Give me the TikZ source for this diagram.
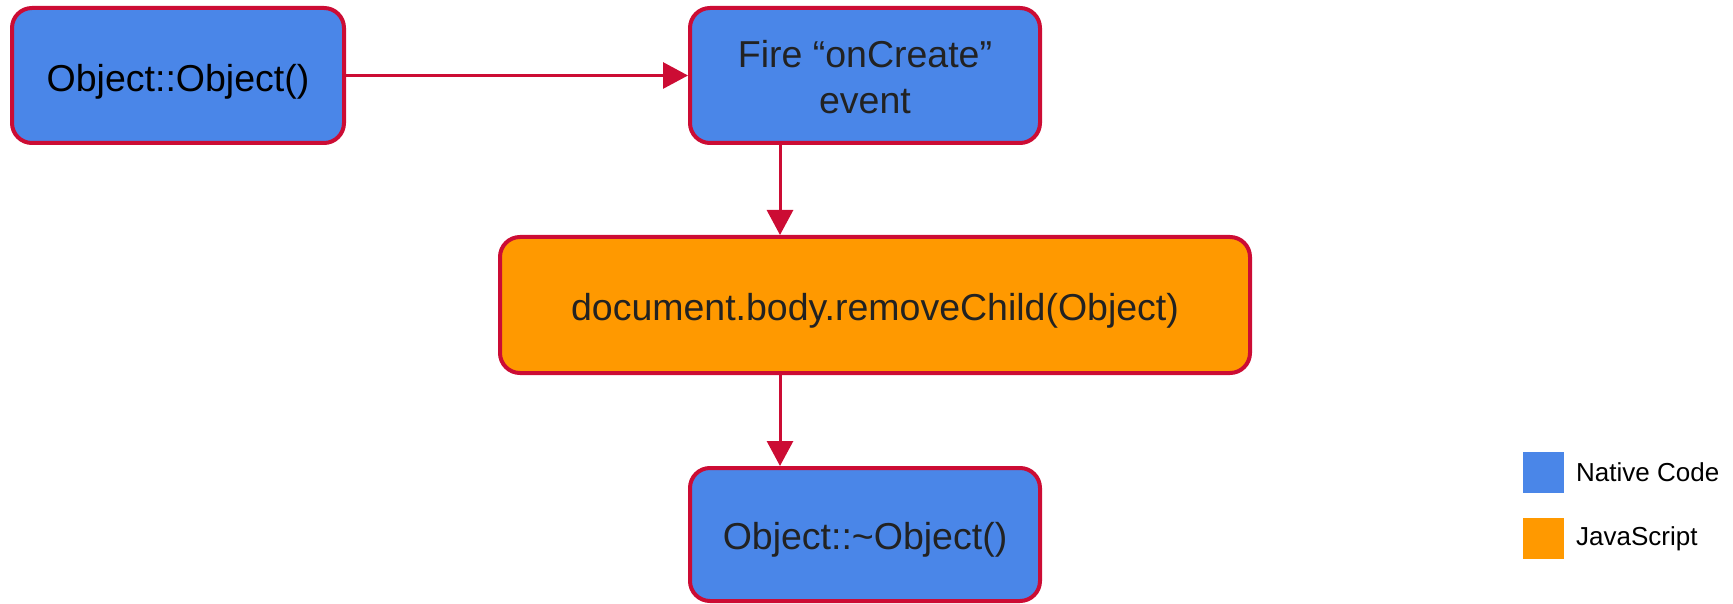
\documentclass[tikz,border=0pt]{standalone}
\usepackage{fontspec}
\setmainfont{Liberation Sans}
\usetikzlibrary{arrows.meta}
\definecolor{nativeblue}{HTML}{4A86E8}
\definecolor{jsorange}{HTML}{FF9900}
\definecolor{edgered}{RGB}{204,12,52}
\definecolor{ink}{RGB}{34,34,34}
\tikzset{
  flowbox/.style={draw=edgered, line width=4pt, rounded corners=20pt,
    font=\fontsize{37.5}{46}\selectfont, text=ink, align=center, inner sep=0pt,
    minimum height=135pt, text height=30pt, text depth=0pt},
  native/.style={flowbox, fill=nativeblue},
  script/.style={flowbox, fill=jsorange},
  flow/.style={draw=edgered, line width=3pt, -{Triangle[length=25pt,width=26pt]}},
  swatch/.style={minimum width=41pt, minimum height=41pt, inner sep=0pt, draw=none},
  legendtext/.style={anchor=west, font=\fontsize{26}{30}\selectfont, text=black, inner sep=0pt}
}
\begin{document}
\begin{tikzpicture}[x=1pt,y=-1pt]
\useasboundingbox (0,0) rectangle (1733,604);

% process steps
\node[native, minimum width=332pt, text=black, text height=32pt] (ctor) at (178,75.5) {Object::Object()};
\node[native, minimum width=350pt, text height=76pt, text depth=0pt] (fire) at (865,75.5) {Fire “onCreate”\\event};
\node[script, minimum width=750pt, minimum height=136pt] (remove) at (875,305) {document.body.removeChild(Object)};
\node[native, minimum width=350pt, minimum height=133pt] (dtor) at (865,534.5) {Object::\textasciitilde Object()};

% connectors
\coordinate (lane) at (780,0);
\draw[flow] (ctor.east) -- (fire.west);
\draw[flow] (fire.south -| lane) -- (remove.north -| lane);
\draw[flow] (remove.south -| lane) -- (dtor.north -| lane);

% legend
\node[swatch, fill=nativeblue] (keynative) at (1543.5,472.5) {};
\node[swatch, fill=jsorange] (keyjs) at (1543.5,538.5) {};
\node[legendtext] (labnative) at (1576,472.5) {Native Code};
\node[legendtext] (labjs) at (1576,538.5) {JavaScript};
\end{tikzpicture}
\end{document}
